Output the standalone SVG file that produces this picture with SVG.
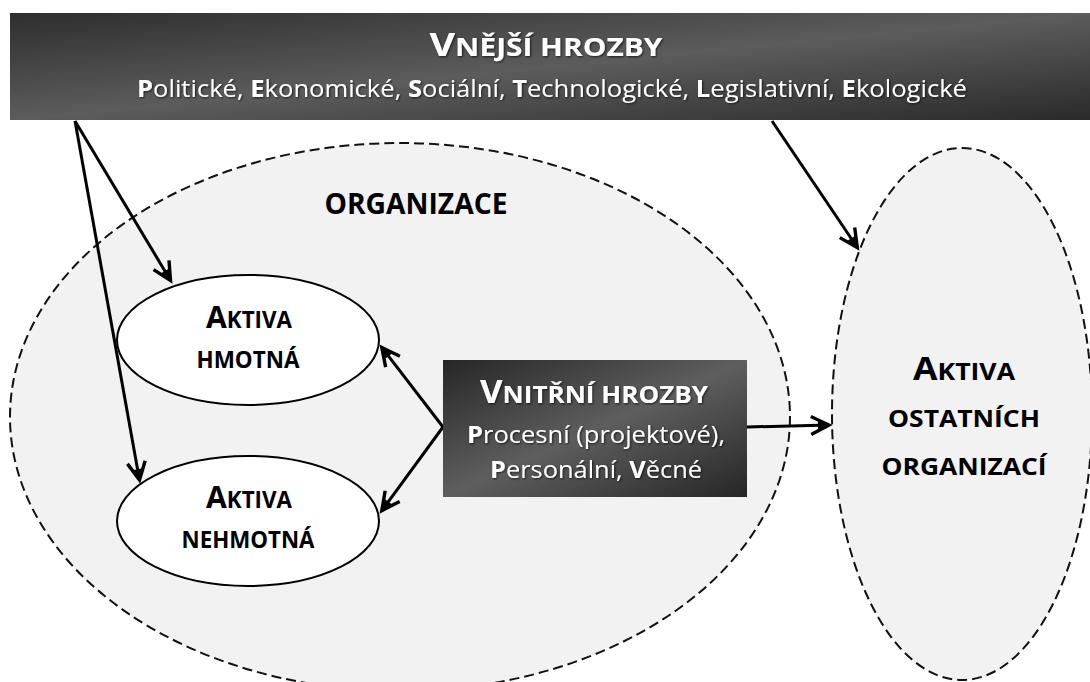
<svg xmlns="http://www.w3.org/2000/svg" width="1090" height="682" viewBox="0 0 1090 682">
  <defs>
    <style>
      .txt { font-family: "Open Sans", "Liberation Sans", sans-serif; }
      .b { font-weight: 700; }
      .dark { fill: #000000; }
      .light { fill: #ffffff; }
      .zone { fill: #f2f2f2; stroke: #111111; stroke-width: 2; stroke-dasharray: 10 5; }
      .asset { fill: #ffffff; stroke: #000000; stroke-width: 2; }
      .link { stroke: #000000; stroke-width: 3; fill: none; marker-end: url(#arrow); }
    </style>
    <linearGradient id="barFill" x1="0" y1="0" x2="1" y2="1">
      <stop offset="0" stop-color="#2e2e2e"/>
      <stop offset="0.5" stop-color="#5c5c5c"/>
      <stop offset="1" stop-color="#2a2a2a"/>
    </linearGradient>
    <linearGradient id="boxFill" x1="0" y1="0" x2="1" y2="1">
      <stop offset="0" stop-color="#262626"/>
      <stop offset="0.5" stop-color="#5e5e5e"/>
      <stop offset="1" stop-color="#262626"/>
    </linearGradient>
    <filter id="glow" x="-10%" y="-30%" width="120%" height="160%">
      <feDropShadow dx="1" dy="1" stdDeviation="1" flood-color="#000000" flood-opacity="0.7"/>
    </filter>
    <marker id="arrow" markerUnits="userSpaceOnUse" viewBox="-24 -13 30 26" refX="0" refY="0" markerWidth="30" markerHeight="26" orient="auto">
      <path d="M-18,-9 L0,0 L-18,9" fill="none" stroke="#000000" stroke-width="3.4" stroke-linejoin="miter"/>
      <path d="M0,0 L-11,-4 L-11,4 Z" fill="#000000"/>
    </marker>
  </defs>

  <rect x="0" y="0" width="1090" height="682" fill="#ffffff"/>

  <!-- organisation boundary -->
  <g id="organizace">
    <ellipse class="zone" cx="400" cy="417" rx="390" ry="274"/>
    <text class="txt b dark" x="416" y="214" font-size="28" text-anchor="middle" textLength="183" lengthAdjust="spacingAndGlyphs">ORGANIZACE</text>
  </g>

  <!-- assets of other organisations -->
  <g id="aktiva-ostatnich">
    <ellipse class="zone" cx="962" cy="414" rx="130" ry="266"/>
    <text class="txt b dark" x="964" y="380" text-anchor="middle" textLength="102" lengthAdjust="spacingAndGlyphs"><tspan font-size="32">A</tspan><tspan font-size="24">KTIVA</tspan></text>
    <text class="txt b dark" x="964" y="427" font-size="24" text-anchor="middle" textLength="152" lengthAdjust="spacingAndGlyphs">OSTATNÍCH</text>
    <text class="txt b dark" x="964" y="475" font-size="24" text-anchor="middle" textLength="165" lengthAdjust="spacingAndGlyphs">ORGANIZACÍ</text>
  </g>

  <!-- external threats bar -->
  <g id="vnejsi-hrozby">
    <rect x="10" y="13" width="1080" height="107" fill="url(#barFill)"/>
    <text class="txt b light" x="546" y="56" text-anchor="middle" textLength="233" lengthAdjust="spacingAndGlyphs" filter="url(#glow)"><tspan font-size="33">V</tspan><tspan font-size="25">NĚJŠÍ HROZBY</tspan></text>
    <text class="txt light" x="552" y="97" font-size="23" text-anchor="middle" textLength="830" lengthAdjust="spacingAndGlyphs" filter="url(#glow)"><tspan class="b">P</tspan>olitické, <tspan class="b">E</tspan>konomické, <tspan class="b">S</tspan>ociální, <tspan class="b">T</tspan>echnologické, <tspan class="b">L</tspan>egislativní, <tspan class="b">E</tspan>kologické</text>
  </g>

  <!-- connectors -->
  <g id="connectors">
    <line class="link" x1="75" y1="121" x2="170.5" y2="280.4"/>
    <line class="link" x1="75" y1="121" x2="139.5" y2="480"/>
    <line class="link" x1="772" y1="121" x2="857.3" y2="247.5"/>
    <line class="link" x1="443" y1="427" x2="381.8" y2="347.4"/>
    <line class="link" x1="443" y1="427" x2="381.8" y2="510.6"/>
    <line class="link" x1="747" y1="427" x2="829" y2="425"/>
  </g>

  <!-- tangible assets -->
  <g id="aktiva-hmotna">
    <ellipse class="asset" cx="248" cy="340" rx="131" ry="65"/>
    <text class="txt b dark" x="249" y="328" text-anchor="middle" textLength="86" lengthAdjust="spacingAndGlyphs"><tspan font-size="31">A</tspan><tspan font-size="23">KTIVA</tspan></text>
    <text class="txt b dark" x="248" y="368" font-size="23" text-anchor="middle" textLength="103" lengthAdjust="spacingAndGlyphs">HMOTNÁ</text>
  </g>

  <!-- intangible assets -->
  <g id="aktiva-nehmotna">
    <ellipse class="asset" cx="248" cy="521" rx="131" ry="65"/>
    <text class="txt b dark" x="249" y="508" text-anchor="middle" textLength="86" lengthAdjust="spacingAndGlyphs"><tspan font-size="31">A</tspan><tspan font-size="23">KTIVA</tspan></text>
    <text class="txt b dark" x="248" y="548" font-size="23" text-anchor="middle" textLength="133" lengthAdjust="spacingAndGlyphs">NEHMOTNÁ</text>
  </g>

  <!-- internal threats -->
  <g id="vnitrni-hrozby">
    <rect x="443" y="360" width="304" height="137" fill="url(#boxFill)"/>
    <text class="txt b light" x="594" y="403" text-anchor="middle" textLength="228" lengthAdjust="spacingAndGlyphs" filter="url(#glow)"><tspan font-size="32">V</tspan><tspan font-size="24">NITŘNÍ HROZBY</tspan></text>
    <text class="txt light" x="596" y="443" font-size="23" text-anchor="middle" textLength="258" lengthAdjust="spacingAndGlyphs" filter="url(#glow)"><tspan class="b">P</tspan>rocesní (projektové),</text>
    <text class="txt light" x="596" y="478" font-size="23" text-anchor="middle" textLength="212" lengthAdjust="spacingAndGlyphs" filter="url(#glow)"><tspan class="b">P</tspan>ersonální, <tspan class="b">V</tspan>ěcné</text>
  </g>
</svg>
